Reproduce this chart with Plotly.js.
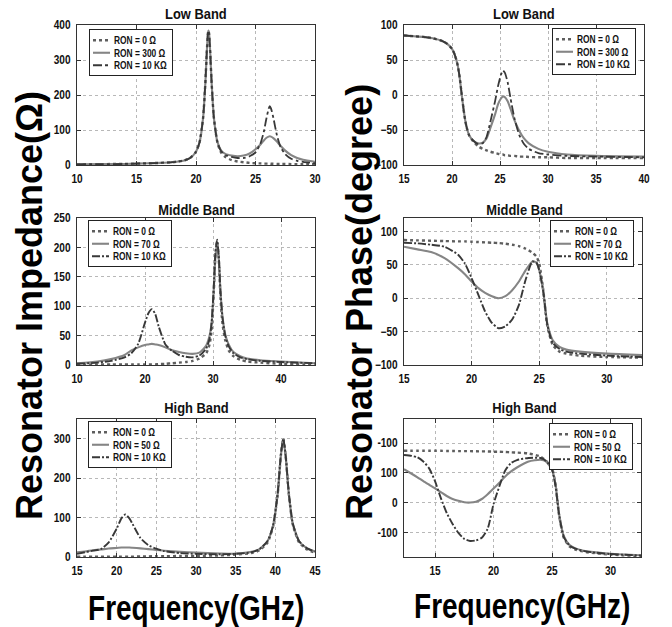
<!DOCTYPE html>
<html>
<head>
<meta charset="utf-8">
<script src="https://cdn.plot.ly/plotly-3.0.1.min.js"></script>
<style>html,body{margin:0;padding:0;background:#fff;}#chart{width:672px;height:627px;}</style>
</head>
<body>
<div id="chart"></div>
<script>
// ---------- DATA ----------
// Low band impedance
const lowZ_x   = [10, 12, 14, 16, 17, 18, 18.5, 19, 19.5, 20, 20.3, 20.6, 20.8, 20.9, 21, 21.05, 21.1, 21.2, 21.3, 21.5, 21.8, 22.1, 22.5, 23, 23.5, 24, 24.5, 25, 25.4, 25.7, 25.9, 26.1, 26.2, 26.3, 26.5, 26.8, 27.1, 27.5, 28, 28.5, 29, 30];
const lowZ_r0  = [2, 2.5, 3, 5, 6, 8, 10, 13, 20, 38, 65, 136, 244, 318, 375, 384, 375, 318, 244, 136, 64, 36, 22, 14, 10, 8, 6, 5, 4.5, 4, 4, 4, 4, 3.5, 3.5, 3, 3, 3, 2.5, 2.5, 2, 2];
const lowZ_rM  = [2, 2.5, 3, 5, 6, 8, 10, 13, 20, 38, 65, 136, 244, 318, 375, 384, 375, 318, 244, 136, 66, 42, 31, 27, 25, 27, 33, 45, 58, 70, 77, 81, 82, 81, 77, 67, 55, 41, 28, 20, 15, 9];
const lowZ_r10k= [2, 2.5, 3, 5, 6, 8, 10, 13, 20, 38, 65, 136, 244, 318, 375, 384, 375, 318, 244, 136, 65, 40, 28, 23, 20, 20, 25, 36, 60, 95, 130, 160, 168, 162, 135, 85, 52, 31, 18, 12, 9, 5];

// Low band phase
const lowP_x   = [15, 16, 17, 18, 19, 19.5, 20, 20.3, 20.6, 20.8, 21, 21.2, 21.4, 21.6, 21.8, 22.2, 22.7, 23.2, 23.6, 24, 24.5, 24.8, 25.1, 25.3, 25.5, 25.8, 26.1, 26.5, 27, 27.5, 28, 29, 30, 32, 35, 40];
const lowP_r0  = [85, 84, 83, 81, 77, 73, 66, 57, 42, 25, 2, -20, -38, -50, -58, -66, -73, -77, -79, -81, -83, -84, -85, -85, -86, -86, -87, -87, -88, -88, -88.5, -89, -89, -90, -90, -90];
const lowP_rM  = [85, 84, 83, 81, 77, 73, 66, 57, 42, 25, 2, -20, -38, -50, -58, -65, -69, -68, -62, -47, -27, -13, -5, -2, -3, -9, -20, -36, -51, -62, -69, -77, -81, -85, -87, -88];
const lowP_r10k= [85, 84, 83, 81, 77, 73, 66, 57, 42, 25, 2, -20, -38, -50, -58, -65, -70, -69, -60, -38, -8, 13, 29, 35, 32, 18, -5, -33, -57, -70, -77, -83, -85, -87, -88, -89];

// Middle band impedance
const midZ_x   = [10, 13, 15, 17, 18, 19, 20, 20.5, 21, 21.5, 22, 23, 24, 25, 26, 27, 28, 29, 29.5, 29.8, 30.1, 30.35, 30.6, 30.85, 31.1, 31.4, 31.8, 32.3, 33, 34, 35, 37, 40, 45];
const midZ_r0  = [0.5, 1, 1, 1, 1, 1, 1, 1, 1, 1, 1.5, 2, 3, 4, 5, 7, 11, 20, 35, 60, 120, 185, 210, 180, 115, 70, 42, 25, 15, 9, 6, 4, 2, 1];
const midZ_rM  = [3, 6, 10, 17, 25, 30, 34, 35, 36, 35, 34, 30, 25, 22, 20, 19, 21, 33, 50, 72, 125, 182, 205, 180, 125, 82, 52, 35, 22, 15, 11, 8, 6, 3];
const midZ_r10k= [2, 4, 7, 13, 20, 36, 72, 88, 95, 87, 66, 35, 24, 17, 14, 13, 16, 28, 45, 72, 130, 190, 213, 185, 125, 80, 50, 32, 20, 13, 10, 7, 5, 3];

// Middle band phase
const midP_x   = [15, 16, 17, 18, 19, 19.5, 20, 20.5, 21, 21.5, 22, 22.5, 23, 23.5, 24, 24.5, 24.8, 25, 25.3, 25.6, 26, 26.5, 27, 28, 30, 32.6];
const midP_r0  = [87, 86.5, 86, 85.5, 85, 85, 84.5, 84, 83.5, 83, 82.5, 81.5, 80, 78, 74, 68, 62, 52, 12, -42, -70, -80, -83, -86, -88, -89];
const midP_rM  = [77, 73, 69, 60, 45, 36, 25, 15, 8, 3, 0, 3, 12, 25, 42, 55, 53, 42, 10, -38, -63, -73, -77, -80, -83, -85];
const midP_r10k= [83, 82, 80, 77, 65, 52, 30, 5, -20, -37, -45, -42, -32, -10, 28, 55, 53, 42, 10, -40, -67, -76, -80, -83, -86, -88];

// High band impedance
const highZ_x   = [15, 16, 17, 18, 19, 20, 20.6, 21.1, 21.6, 22, 23, 24, 25, 26, 28, 30, 33, 35, 37, 38, 39, 39.7, 40.3, 40.7, 41, 41.3, 41.7, 42.2, 43, 44, 45];
const highZ_r0  = [1, 1, 1, 1, 1, 1, 1, 1, 1, 1, 1.5, 1.5, 2, 2, 2.5, 3, 4, 6, 10, 17, 36, 76, 160, 258, 300, 257, 160, 82, 37, 19, 11];
const highZ_rM  = [12, 14, 17, 19, 21.5, 23, 24, 24, 24, 23.5, 22, 20, 18, 16, 13, 11, 9, 8.5, 13, 20, 40, 78, 160, 258, 298, 256, 160, 85, 40, 22, 14];
const highZ_r10k= [8, 12, 16, 20, 37, 72, 98, 108, 98, 84, 48, 30, 21, 15, 10, 8, 7, 8, 12, 20, 40, 78, 162, 260, 300, 258, 162, 85, 40, 22, 14];

// High band phase
const highP_x   = [12.35, 13, 13.5, 14, 14.5, 15, 15.5, 16, 16.5, 17, 17.5, 18, 18.5, 19, 19.5, 20, 20.5, 21, 21.5, 22, 23, 24, 24.5, 25, 25.3, 25.6, 26, 26.5, 27, 28, 30, 32.6];
const highP_r0  = [174, 174, 174, 174, 174, 174, 174, 173.5, 173.5, 173, 173, 173, 172.5, 172, 172, 171, 171, 170, 169, 168, 165, 155, 140, 115, 60, -42, -118, -148, -158, -167, -175, -180];
const highP_rM  = [112, 97, 85, 72, 60, 48, 35, 22, 12, 6, 1, 0, 3, 12, 28, 47, 67, 88, 105, 118, 138, 144, 138, 110, 60, -38, -112, -143, -154, -164, -172, -177];
const highP_r10k= [160, 157, 152, 138, 115, 72, 15, -35, -72, -102, -122, -129, -127, -118, -88, -5, 55, 108, 133, 143, 150, 150, 140, 110, 55, -40, -115, -145, -155, -165, -173, -178];

// Labels
const lowNames  = ['RON = 0 \u03A9', 'RON = 300 \u03A9', 'RON = 10 K\u03A9'];
const midNames  = ['RON = 0 \u03A9', 'RON = 70 \u03A9', 'RON = 10 K\u03A9'];
const highNames = ['RON = 0 \u03A9', 'RON = 50 \u03A9', 'RON = 10 K\u03A9'];
const panelTitles = ['Low Band', 'Low Band', 'Middle Band', 'Middle Band', 'High Band', 'High Band'];
const yTitleLeft  = 'Resonator Impedance(\u03A9)';
const yTitleRight = 'Resonator Phase(degree)';
const xTitle      = 'Frequency(GHz)';
const highPhaseTickVals = [-100, 0, 100, 200];
const highPhaseTickText = ['-100', '0', '100', '-100'];

// ---------- STYLE ----------
const FONT = "'Liberation Sans', Arial, sans-serif";
const styleR0   = {color: '#5e5e5e', width: 2.4, dash: 'dot'};
const styleRM   = {color: '#858585', width: 2.1, dash: 'solid'};
const styleR10k = {color: '#383838', width: 1.8, dash: 'dashdot'};
const styleR10kDense = {color: '#383838', width: 1.9, dash: '8px,2px,2px,2px'};

const panels = [
  {x: lowZ_x,  ys: [lowZ_r0,  lowZ_rM,  lowZ_r10k],  names: lowNames,  dk: styleR10k},
  {x: lowP_x,  ys: [lowP_r0,  lowP_rM,  lowP_r10k],  names: lowNames,  dk: styleR10k},
  {x: midZ_x,  ys: [midZ_r0,  midZ_rM,  midZ_r10k],  names: midNames,  dk: styleR10kDense},
  {x: midP_x,  ys: [midP_r0,  midP_rM,  midP_r10k],  names: midNames,  dk: styleR10kDense},
  {x: highZ_x, ys: [highZ_r0, highZ_rM, highZ_r10k], names: highNames, dk: styleR10kDense},
  {x: highP_x, ys: [highP_r0, highP_rM, highP_r10k], names: highNames, dk: styleR10kDense}
];

const traces = [];
panels.forEach((p, i) => {
  const sfx = i === 0 ? '' : String(i + 1);
  const st = [styleR0, styleRM, p.dk];
  p.ys.forEach((y, k) => {
    traces.push({
      type: 'scatter', mode: 'lines',
      x: p.x, y: y, name: p.names[k],
      xaxis: 'x' + sfx, yaxis: 'y' + sfx,
      legend: 'legend' + sfx,
      line: Object.assign({shape: 'spline', smoothing: 0.6}, st[k]),
      hoverinfo: 'skip'
    });
  });
});

const W = 672, H = 627;
const px = v => v / W, py = v => 1 - v / H;

function axis(domain, range, extra) {
  return Object.assign({
    domain: domain, range: range, autorange: false,
    showline: true, linecolor: '#333', linewidth: 1, mirror: 'ticks',
    ticks: 'inside', ticklen: 4, tickcolor: '#333', tickwidth: 1,
    showgrid: true, gridcolor: '#b8b8b8', griddash: 'dot', gridwidth: 1,
    zeroline: false,
    tickfont: {family: FONT, size: 12, color: '#111', weight: 'bold'},
    ticklabelstandoff: 3
  }, extra || {});
}

const colL = [px(77), px(315)];
const rowY = [[py(165), py(25)], [py(365), py(218)], [py(557), py(419)]];

const layout = {
  width: W, height: H, autosize: false,
  margin: {l: 0, r: 0, t: 0, b: 0},
  paper_bgcolor: '#fff', plot_bgcolor: '#fff',
  showlegend: true,
  xaxis:  axis(colL, [10, 30], {anchor: 'y', dtick: 5, tick0: 10}),
  yaxis:  axis(rowY[0], [0, 400], {anchor: 'x', dtick: 100}),
  xaxis2: axis([px(404), px(644)], [15, 40], {anchor: 'y2', dtick: 5, tick0: 15}),
  yaxis2: axis(rowY[0], [-100, 100], {anchor: 'x2', dtick: 50}),
  xaxis3: axis(colL, [10, 45], {anchor: 'y3', tickvals: [10, 20, 30, 40]}),
  yaxis3: axis(rowY[1], [0, 250], {anchor: 'x3', dtick: 50}),
  xaxis4: axis([px(404), px(642)], [15, 32.6], {anchor: 'y4', tickvals: [15, 20, 25, 30]}),
  yaxis4: axis(rowY[1], [-100, 120], {anchor: 'x4', tickvals: [-100, -50, 0, 50, 100]}),
  xaxis5: axis(colL, [15, 45], {anchor: 'y5', dtick: 5, tick0: 15}),
  yaxis5: axis(rowY[2], [0, 350], {anchor: 'x5', tickvals: [0, 100, 200, 300]}),
  xaxis6: axis([px(404), px(641)], [12.35, 32.6], {anchor: 'y6', tickvals: [15, 20, 25, 30]}),
  yaxis6: axis(rowY[2], [-183, 281], {anchor: 'x6', tickvals: highPhaseTickVals, ticktext: highPhaseTickText}),
  annotations: []
};

// legends
const legPos = [
  {x: px(89),  y: py(29),  xanchor: 'left'},
  {x: px(635), y: py(28),  xanchor: 'right'},
  {x: px(88),  y: py(220), xanchor: 'left'},
  {x: px(633), y: py(220), xanchor: 'right'},
  {x: px(88),  y: py(421), xanchor: 'left'},
  {x: px(632), y: py(423), xanchor: 'right'}
];
legPos.forEach((lp, i) => {
  const key = i === 0 ? 'legend' : 'legend' + (i + 1);
  layout[key] = {
    x: lp.x, y: lp.y, xanchor: lp.xanchor, yanchor: 'top',
    xref: 'paper', yref: 'paper',
    bgcolor: '#fff', bordercolor: '#222', borderwidth: 1,
    font: {family: FONT, size: 10, color: '#111', weight: 'bold'},
    itemwidth: 30, tracegroupgap: 0
  };
});

// panel titles
const titlePos = [[196, 14], [524, 14], [196, 210], [524, 210], [196, 408], [524, 408]];
panelTitles.forEach((t, i) => {
  layout.annotations.push({
    text: t, x: px(titlePos[i][0]), y: py(titlePos[i][1]), xref: 'paper', yref: 'paper',
    xanchor: 'center', yanchor: 'middle', showarrow: false, name: 'cond',
    font: {family: FONT, size: 15, color: '#111', weight: 'bold'}
  });
});

// big axis titles
layout.annotations.push({
  text: yTitleLeft, x: px(29), y: py(306), xref: 'paper', yref: 'paper',
  xanchor: 'center', yanchor: 'middle', showarrow: false, textangle: -90,
  font: {family: FONT, size: 36, color: '#000', weight: 'bold'}
});
layout.annotations.push({
  text: yTitleRight, x: px(360), y: py(302), xref: 'paper', yref: 'paper',
  xanchor: 'center', yanchor: 'middle', showarrow: false, textangle: -90,
  font: {family: FONT, size: 36, color: '#000', weight: 'bold'}
});
[[196, 607], [522, 605]].forEach(p => {
  layout.annotations.push({
    text: xTitle, x: px(p[0]), y: py(p[1]), xref: 'paper', yref: 'paper',
    xanchor: 'center', yanchor: 'middle', showarrow: false, name: 'cond',
    font: {family: FONT, size: 35, color: '#000', weight: 'bold'}
  });
});

// ---------- post-render: narrow text + compact legends (reference uses a narrow bold face) ----------
function condense(el, factor) {
  let len = parseFloat(el.getAttribute('data-len0'));
  if (!len) {
    len = el.getComputedTextLength();
    if (!len) return 0;
    el.setAttribute('data-len0', len);
  }
  el.setAttribute('textLength', (len * factor).toFixed(2));
  el.setAttribute('lengthAdjust', 'spacingAndGlyphs');
  return len * factor;
}

const TR = /translate\(\s*([-\d.e]+)[ ,]+([-\d.e]+)\s*\)/;
function tidyLegends(gd) {
  const fl = gd._fullLayout;
  const step = 12.5, lineLen = 17, lineX0 = 3, textX = 24;
  gd.querySelectorAll('g.infolayer > g').forEach(lg => {
    const key = (lg.getAttribute('class') || '').trim();
    if (!/^legend\d*$/.test(key)) return;
    const opts = fl[key];
    const bg = lg.querySelector('rect.bg');
    const items = lg.querySelectorAll('g.traces');
    if (!opts || !bg || !items.length) return;
    let maxW = 0;
    items.forEach((it, i) => {
      const m = TR.exec(it.getAttribute('transform') || '');
      const x = m ? parseFloat(m[1]) : 0;
      it.setAttribute('transform', 'translate(' + x + ',' + (5 + step / 2 + i * step) + ')');
      it.querySelectorAll('path.js-line').forEach(p => p.setAttribute('d', 'M' + lineX0 + ',0h' + lineLen));
      const t = it.querySelector('text.' + key + 'text') || it.querySelector('text');
      if (t) {
        t.setAttribute('x', textX);
        t.querySelectorAll('tspan').forEach(s => { if (s.hasAttribute('x')) s.setAttribute('x', textX); });
        const w = condense(t, 0.84);
        maxW = Math.max(maxW, x + textX + w);
      }
    });
    if (!maxW) return;
    const newW = Math.round(maxW + 5);
    const newH = Math.round(8 + step * items.length);
    bg.setAttribute('width', newW);
    bg.setAttribute('height', newH);
    const m = TR.exec(lg.getAttribute('transform') || '');
    if (m) {
      const left = opts.xanchor === 'right' ? opts.x * W - newW : opts.x * W;
      lg.setAttribute('transform', 'translate(' + left + ',' + m[2] + ')');
    }
  });
}

function postProcess(gd) {
  try {
    gd.querySelectorAll('.xaxislayer-above text, .yaxislayer-above text').forEach(t => condense(t, 0.84));
    const annTexts = gd.querySelectorAll('g.annotation text.annotation-text');
    annTexts.forEach((t, i) => {
      const a = gd._fullLayout.annotations[i];
      if (a && a.name === 'cond') condense(t, a.font.size > 20 ? 0.8 : 0.86);
    });
    tidyLegends(gd);
  } catch (e) { console.error(e); }
}

Plotly.newPlot('chart', traces, layout, {staticPlot: true, displayModeBar: false}).then(postProcess);
</script>
</body>
</html>
